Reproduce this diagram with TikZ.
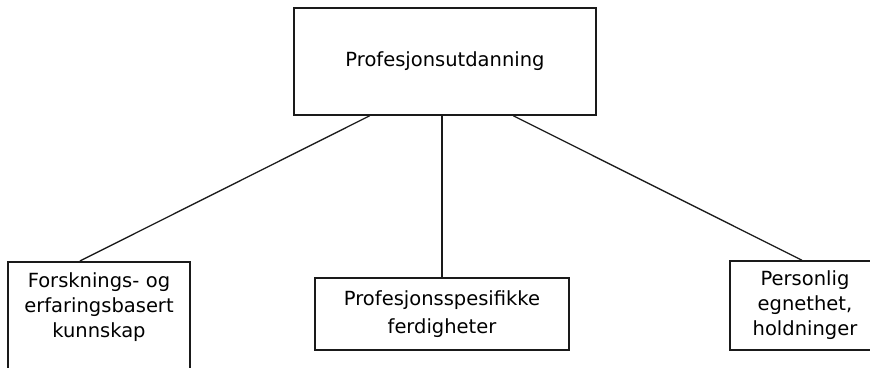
\documentclass[tikz,border=0pt]{standalone}
\usepackage{fontspec}
\setmainfont{DejaVu Sans}
\usetikzlibrary{positioning, calc}
\definecolor{Frame}{HTML}{1A1A1A}
\tikzset{
    blockbox/.style={rectangle, draw=Frame, line width=1.5pt, align=center, inner sep=6pt,
        font=\fontsize{19.5}{25}\selectfont},
    link/.style={draw=Frame, line width=1.3pt},
}
\begin{document}
\begin{tikzpicture}[x=1pt, y=-1pt]
        \useasboundingbox (0,0) rectangle (870,367);
        % Boxes
        \node[blockbox, minimum width=302pt, minimum height=107pt] (prof) at (445,61.5) {Profesjonsutdanning};
        \node[blockbox, minimum width=254pt, minimum height=72pt, font=\fontsize{19.5}{28}\selectfont] (ferd) at (442,314) {Profesjonsspesifikke\\ferdigheter};
        \node[blockbox, anchor=north, text width=170pt, text height=20pt, text depth=110pt] (kunn) at (99,261) {Forsknings- og\\erfaringsbasert\\kunnskap};
        \node[blockbox, minimum width=150pt, minimum height=89pt] (pers) at (805,305.5) {Personlig\\egnethet,\\holdninger};

        % Links
        \draw[link] ($(prof.south west)!0.252!(prof.south east)$) -- ($(kunn.north west)!0.396!(kunn.north east)$);
        \draw[link] (ferd.north) -- (ferd.north |- prof.south);
        \draw[link] ($(prof.south west)!0.725!(prof.south east)$) -- ($(pers.north west)!0.48!(pers.north east)$);
    \end{tikzpicture}
\end{document}
